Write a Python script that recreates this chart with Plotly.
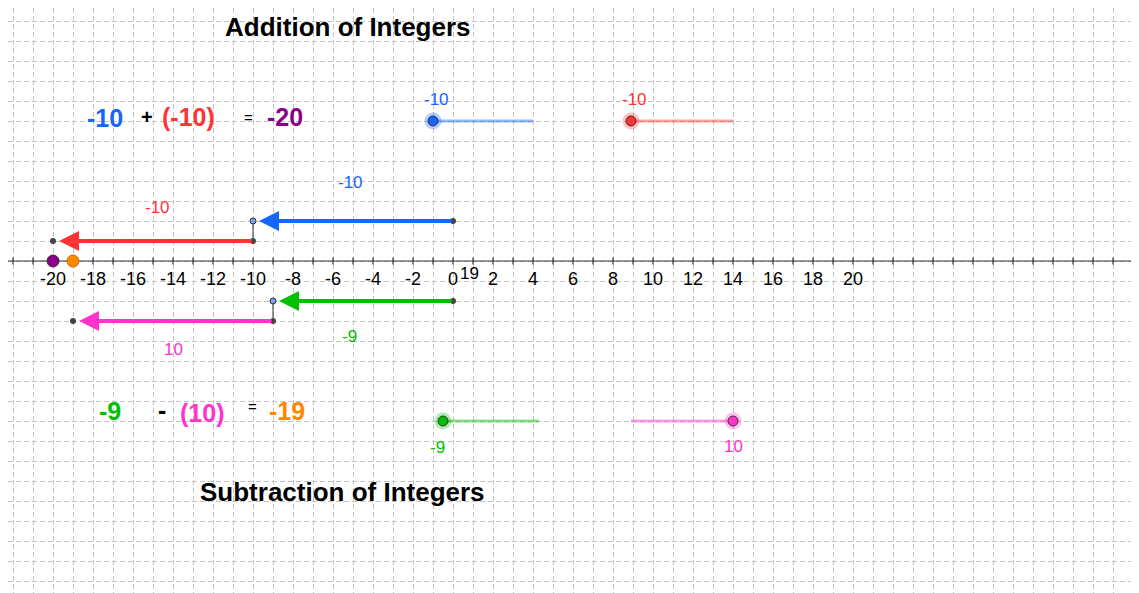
import plotly.graph_objects as go

# data
axis_ticks = list(range(-20, 22, 2))
add_a, add_b, add_sum = -10, -10, -20
sub_a, sub_b, sub_res = -9, 10, -19
BLUE, RED, PURPLE = "#1565ff", "#ff3333", "#8b008b"
GREEN, PINK, ORANGE = "#00c000", "#ff33cc", "#ff8800"

fig = go.Figure()
X0, X1, Y0, Y1 = -22.25, 34.7, -17.0, 12.65

def seg(x, y, color, width, op=1.0):
    fig.add_trace(go.Scatter(x=x, y=y, mode="lines", line=dict(color=color, width=width),
                             opacity=op, hoverinfo="skip", showlegend=False))

def dot(x, y, color, size, lc="#333", lw=1, op=1.0):
    fig.add_trace(go.Scatter(x=[x], y=[y], mode="markers", opacity=op,
                             marker=dict(color=color, size=size, line=dict(color=lc, width=lw)),
                             hoverinfo="skip", showlegend=False))

def arrow(x_start, x_end, y, color):
    fig.add_annotation(x=x_end + (0.3 if x_end < x_start else -0.3), y=y, ax=x_start, ay=y,
                       xref="x", yref="y", axref="x", ayref="y", text="", showarrow=True,
                       arrowhead=2, arrowsize=1.0, arrowwidth=4, arrowcolor=color)

# number line
seg([X0, X1], [0, 0], "#333", 1.2)
fig.add_trace(go.Scatter(x=list(range(-22, 35)), y=[0]*57, mode="markers",
                         marker=dict(symbol="line-ns", size=5, line=dict(color="#333", width=1.2)),
                         hoverinfo="skip", showlegend=False))
fig.add_trace(go.Scatter(x=axis_ticks, y=[-0.95]*len(axis_ticks), mode="text",
                         text=[str(t) for t in axis_ticks], textfont=dict(size=18, color="black", family="Liberation Sans"),
                         hoverinfo="skip", showlegend=False))

# addition arrows
arrow(0, add_a, 2, BLUE)
arrow(add_a, add_sum, 1, RED)
seg([add_a, add_a], [1, 2], "#333", 1)
dot(0, 2, "#444", 6, lw=0); dot(add_a, 2, "#7b9cff", 6)
dot(add_a, 1, "#444", 6, lw=0); dot(add_sum, 1, "#444", 6, lw=0)
dot(-15, 1, "#444", 3, lw=0)
# subtraction arrows
arrow(0, sub_a, -2, GREEN)
arrow(sub_a, sub_res, -3, PINK)
seg([sub_a, sub_a], [-2, -3], "#333", 1)
dot(0, -2, "#444", 6, lw=0); dot(sub_a, -2, "#7b9cff", 6)
dot(sub_a, -3, "#444", 6, lw=0); dot(sub_res, -3, "#444", 6, lw=0)
dot(-4.5, -2, "#444", 3, lw=0); dot(-14, -3, "#444", 3, lw=0)
# result points
dot(add_sum, 0, PURPLE, 12)
dot(sub_res, 0, ORANGE, 12, lc="#cc6600")

# sliders
seg([-1, 4], [7, 7], BLUE, 3, 0.45); dot(-1, 7, BLUE, 17, lc=BLUE, lw=0, op=0.3); dot(-1, 7, BLUE, 10)
seg([8.9, 14], [7, 7], RED, 3, 0.45); dot(8.9, 7, RED, 17, lc=RED, lw=0, op=0.3); dot(8.9, 7, RED, 10)
seg([-0.5, 4.3], [-8, -8], GREEN, 3, 0.45); dot(-0.5, -8, GREEN, 17, lc=GREEN, lw=0, op=0.3); dot(-0.5, -8, GREEN, 10)
seg([8.9, 14], [-8, -8], PINK, 3, 0.45); dot(14, -8, PINK, 17, lc=PINK, lw=0, op=0.3); dot(14, -8, PINK, 10)

def txt(x, y, s, color, size=17, bold=False):
    fig.add_annotation(x=x, y=y, xref="x", yref="y", text=f"<b>{s}</b>" if bold else s, showarrow=False,
                       font=dict(size=size, color=color, family="Liberation Sans"))

txt(-0.85, 8.1, str(add_a), BLUE); txt(9.05, 8.1, str(add_b), RED)
txt(-0.8, -9.3, str(sub_a), GREEN); txt(14, -9.25, str(sub_b), PINK)
txt(-5.15, 3.95, str(add_a), BLUE); txt(-14.8, 2.7, str(add_b), RED)
txt(-5.2, -3.75, str(sub_a), GREEN); txt(-14, -4.4, str(sub_b), PINK)
txt(0.8, -0.6, str(-sub_res), "black", 17)

txt(-5.25, 11.7, "Addition of Integers", "black", 26, True)
txt(-5.55, -11.55, "Subtraction of Integers", "black", 26, True)
txt(-17.4, 7.15, str(add_a), BLUE, 25, True)
txt(-15.3, 7.2, "+", "black", 20, True)
txt(-13.25, 7.2, f"({add_b})", RED, 25, True)
txt(-10.25, 7.2, "=", "black", 15)
txt(-8.4, 7.2, str(add_sum), PURPLE, 25, True)
txt(-17.15, -7.5, str(sub_a), GREEN, 25, True)
txt(-14.55, -7.45, "-", "black", 25, True)
txt(-12.55, -7.6, f"({sub_b})", PINK, 25, True)
txt(-10.05, -7.25, "=", "black", 15)
txt(-8.3, -7.5, str(sub_res), ORANGE, 25, True)

grid = dict(showgrid=True, gridcolor="#c4c4c4", griddash="5px,3px", gridwidth=1, dtick=1,
            showticklabels=False, zeroline=False, ticks="", showline=False)
fig.update_layout(width=1139, height=593, margin=dict(l=0, r=0, t=0, b=0),
                  paper_bgcolor="white", plot_bgcolor="white", showlegend=False,
                  xaxis=dict(range=[X0, X1], tick0=0, **grid),
                  yaxis=dict(range=[Y0, Y1], tick0=0, **grid))
fig.write_html("out.html")
